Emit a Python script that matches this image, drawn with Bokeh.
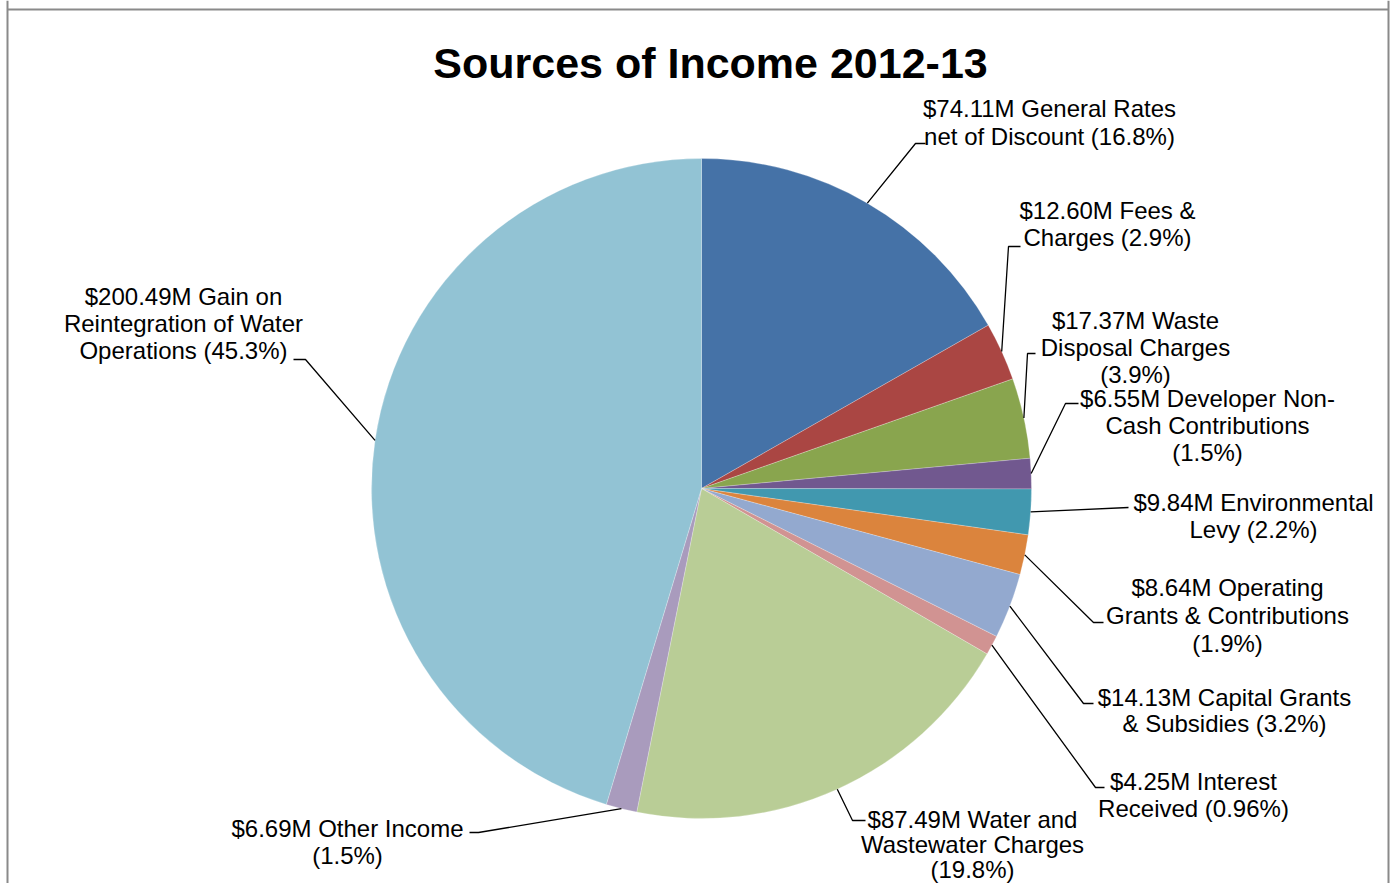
import numpy as np
from bokeh.plotting import figure
from bokeh.models import ColumnDataSource, Range1d, Label, Span
from bokeh.core.properties import value
from bokeh.embed import file_html
from bokeh.resources import INLINE

# ---------------- data ----------------
title_text = "Sources of Income 2012-13"
categories = [
    "General Rates net of Discount",
    "Fees & Charges",
    "Waste Disposal Charges",
    "Developer Non-Cash Contributions",
    "Environmental Levy",
    "Operating Grants & Contributions",
    "Capital Grants & Subsidies",
    "Interest Received",
    "Water and Wastewater Charges",
    "Other Income",
    "Gain on Reintegration of Water Operations",
]
amounts = [74.11, 12.60, 17.37, 6.55, 9.84, 8.64, 14.13, 4.25, 87.49, 6.69, 200.49]
label_lines = [
    ["$74.11M General Rates", "net of Discount (16.8%)"],
    ["$12.60M Fees &", "Charges (2.9%)"],
    ["$17.37M Waste", "Disposal Charges", "(3.9%)"],
    ["$6.55M Developer Non-", "Cash Contributions", "(1.5%)"],
    ["$9.84M Environmental", "Levy (2.2%)"],
    ["$8.64M Operating", "Grants & Contributions", "(1.9%)"],
    ["$14.13M Capital Grants", "& Subsidies (3.2%)"],
    ["$4.25M Interest", "Received (0.96%)"],
    ["$87.49M Water and", "Wastewater Charges", "(19.8%)"],
    ["$6.69M Other Income", "(1.5%)"],
    ["$200.49M Gain on", "Reintegration of Water", "Operations (45.3%)"],
]
colors = ["#4572A7", "#AA4643", "#89A54E", "#71588F", "#4198AF", "#DB843D",
          "#93A9CF", "#D19392", "#B9CD96", "#A99BBD", "#92C3D4"]

# ---------------- layout (picture pixels) ----------------
W, H = 1390, 883
def dx(px):
    return px
def dy(py):
    return H - py

pie_cx, pie_cy, pie_r = 701, 488, 330
# label block: centre x, first line centre y, line spacing
label_pos = [
    (1049, 108, 28), (1107, 210, 27), (1135, 320, 27), (1207, 398, 27),
    (1253, 502, 27), (1227, 587, 28), (1224, 697, 26), (1193, 781, 27),
    (972, 819, 25), (347, 828, 27), (183, 296, 27),
]
# leader elbow (x, y) and horizontal end x
leader_pts = [
    (915, 143, 925), (1008, 246, 1020), (1027, 353, 1035), (1065, 403, 1078),
    (1128, 507, 1128), (1093, 622, 1103), (1083, 703, 1093), (1095, 787, 1104),
    (852, 820, 865), (478, 832, 469), (305, 359, 293),
]
border_left, border_right, border_top = 7, 1388, 9

# ---------------- computation ----------------
vals = np.array(amounts)
frac = vals / vals.sum()
cum = np.concatenate([[0], np.cumsum(frac)])
start = np.pi / 2 - cum[:-1] * 2 * np.pi
end = np.pi / 2 - cum[1:] * 2 * np.pi
mid = np.pi / 2 - (cum[:-1] + frac / 2) * 2 * np.pi

cxd, cyd = dx(pie_cx), dy(pie_cy)

p = figure(width=W, height=H, output_backend="svg", toolbar_location=None,
           x_range=Range1d(0, W), y_range=Range1d(0, H),
           x_axis_type=None, y_axis_type=None, min_border=0,
           background_fill_color="white", border_fill_color="white")
p.grid.visible = False
p.outline_line_color = None

# chart-area border (left, top, right; bottom runs off the picture)
for loc in [dx(border_left), dx(border_right)]:
    p.add_layout(Span(location=loc, dimension="height", line_color="#8a8a8a", line_width=2))
p.segment(x0=[dx(border_left)], y0=[dy(border_top)], x1=[dx(border_right)], y1=[dy(border_top)],
          line_color="#8a8a8a", line_width=2)

src = ColumnDataSource(dict(start=start, end=end, color=colors, cat=categories))
p.wedge(x=cxd, y=cyd, radius=pie_r, start_angle="start", end_angle="end",
        direction="clock", fill_color="color", line_color="white",
        line_width=0.4, line_alpha=0.6, source=src)

# leader lines
xs, ys = [], []
for i in range(len(amounts)):
    sx = cxd + pie_r * np.cos(mid[i])
    sy = cyd + pie_r * np.sin(mid[i])
    ex, ey, hx = leader_pts[i]
    xs.append([sx, dx(ex), dx(hx)])
    ys.append([sy, dy(ey), dy(ey)])
p.multi_line(xs=xs, ys=ys, line_color="black", line_width=1.3)

# labels
tx, ty, tt = [], [], []
for i, lines in enumerate(label_lines):
    lx, ly, sp = label_pos[i]
    for j, t in enumerate(lines):
        tx.append(dx(lx))
        ty.append(dy(ly + j * sp))
        tt.append(t)
p.text(x=tx, y=ty, text=tt, text_align="center", text_baseline="middle",
       text_font=value("Liberation Sans"), text_font_size="24px", text_color="black")

p.add_layout(Label(x=dx(710), y=dy(62), text=title_text, text_align="center",
                   text_baseline="middle", text_font="Liberation Sans",
                   text_font_size="43px", text_font_style="bold", text_color="black"))

open("out.html", "w").write(file_html(p, INLINE))
